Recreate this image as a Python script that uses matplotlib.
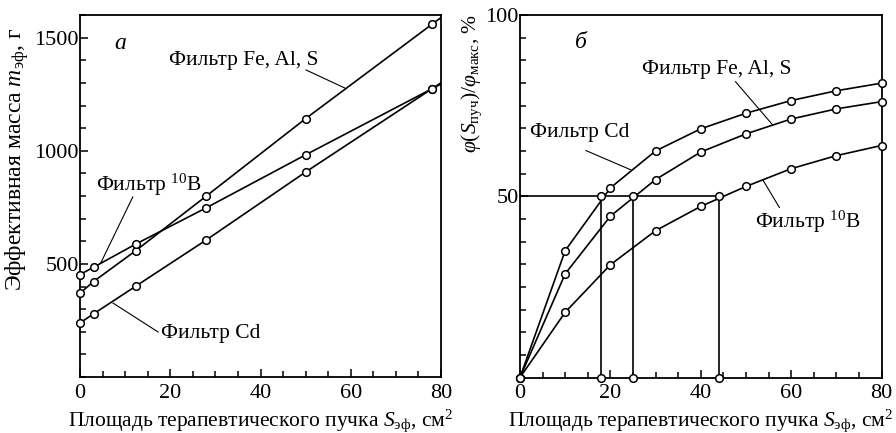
import numpy as np
import matplotlib
matplotlib.use('Agg')
import matplotlib.pyplot as plt
from matplotlib.ticker import MultipleLocator

plt.rcParams['font.family'] = ['Liberation Serif', 'DejaVu Serif']
plt.rcParams['mathtext.fontset'] = 'custom'
plt.rcParams['mathtext.rm'] = 'Liberation Serif'
plt.rcParams['mathtext.it'] = 'Liberation Serif:italic'
plt.rcParams['font.size'] = 15.5

# panel a: effective mass vs beam area
s_a = [0, 3, 12.4, 28, 50, 78]
m_fe = [370, 422, 559, 800, 1142, 1559]
m_b10 = [453, 485, 588, 748, 982, 1274]
m_cd = [239, 279, 402, 606, 906, 1274]

# panel b: relative flux vs beam area
s_b = [0, 10, 20, 30, 40, 50, 60, 70, 80]
phi_cd = [0, 35.0, 52.3, 62.5, 68.6, 72.9, 76.4, 79.1, 81.2]
phi_fe = [0, 28.6, 44.5, 54.6, 62.2, 67.2, 71.3, 74.1, 76.1]
phi_b10 = [0, 18.0, 31.1, 40.5, 47.2, 52.7, 57.6, 61.2, 64.0]
half_level = 50
s_half = [17.9, 25.0, 44.1]

lw = 1.2
mk = dict(marker='o', ms=5.5, mfc='white', mec='black', mew=1.1)

fig = plt.figure(figsize=(8.96, 4.33), dpi=100)
ax1 = fig.add_axes([80 / 896, 1 - 377 / 433, 361 / 896, 362 / 433])
ax2 = fig.add_axes([520 / 896, 1 - 377.5 / 433, 361.5 / 896, 362.5 / 433])


def extend(x, y, xmax):
    # carry the last segment on to the right edge of the frame
    k = (y[-1] - y[-2]) / (x[-1] - x[-2])
    return list(x) + [xmax], list(y) + [y[-1] + k * (xmax - x[-1])]


for y in (m_fe, m_b10, m_cd):
    xe, ye = extend(s_a, y, 80)
    ax1.plot(xe, ye, '-', color='black', lw=lw)
    ax1.plot(s_a, y, ls='none', clip_on=False, zorder=5, **mk)

ax1.set_xlim(0, 80)
ax1.set_ylim(0, 1600)
ax1.xaxis.set_major_locator(MultipleLocator(20))
ax1.xaxis.set_minor_locator(MultipleLocator(5))
ax1.yaxis.set_minor_locator(MultipleLocator(100))
ax1.set_yticks([500, 1000, 1500])
ax1.set_xlabel('Площадь терапевтического пучка $S_{\\mathrm{эф}}$, см$^2$', labelpad=3)
ax1.set_ylabel('Эффективная масса $m_{\\mathrm{эф}}$, г', fontsize=17)
ax1.yaxis.set_label_coords(-0.135, 0.6)

ax1.text(8.9, 1476, 'а', style='italic', fontsize=17, ha='center', va='center')
ax1.text(36.3, 1401, 'Фильтр Fe, Al, S', ha='center', va='center')
ax1.plot([50.1, 58.7], [1357, 1277], color='black', lw=0.8)
ax1.text(15.3, 849, 'Фильтр $^{10}$B', ha='center', va='center')
ax1.plot([11.7, 4.6], [796, 504], color='black', lw=0.8)
ax1.text(29.0, 194, 'Фильтр Cd', ha='center', va='center')
ax1.plot([17.3, 7.3], [199, 327], color='black', lw=0.8)

for y in (phi_cd, phi_fe, phi_b10):
    ax2.plot(s_b, y, color='black', lw=lw, clip_on=False, zorder=5, **mk)

ax2.plot([0, s_half[-1]], [half_level, half_level], color='black', lw=lw)
for x in s_half:
    ax2.plot([x, x], [0, half_level], color='black', lw=lw)
ax2.plot(s_half, [half_level] * len(s_half), ls='none', zorder=6, **mk)
ax2.plot(s_half, [0] * len(s_half), ls='none', clip_on=False, zorder=6, **mk)

ax2.set_xlim(0, 80)
ax2.set_ylim(0, 100)
ax2.xaxis.set_major_locator(MultipleLocator(20))
ax2.xaxis.set_minor_locator(MultipleLocator(5))
ax2.yaxis.set_minor_locator(MultipleLocator(6.25))
ax2.set_yticks([50, 100])
ax2.set_xlabel('Площадь терапевтического пучка $S_{\\mathrm{эф}}$, см$^2$', labelpad=3)
ax2.set_ylabel('$\\varphi(S_{\\mathrm{пуч}})/\\varphi_{\\mathrm{макс}}$, %')
ax2.yaxis.set_label_coords(-0.10, 0.81)

ax2.text(13.5, 92.4, 'б', style='italic', fontsize=17, ha='center', va='center')
ax2.text(43.5, 84.9, 'Фильтр Fe, Al, S', ha='center', va='center')
ax2.plot([47.7, 55.9], [81.6, 69.7], color='black', lw=0.8)
ax2.text(13.3, 67.5, 'Фильтр Cd', ha='center', va='center')
ax2.plot([14.6, 24.5], [62.6, 57.3], color='black', lw=0.8)
ax2.text(63.6, 42.8, 'Фильтр $^{10}$B', ha='center', va='center')
ax2.plot([57.4, 53.7], [46.9, 54.6], color='black', lw=0.8)

for ax in (ax1, ax2):
    for sp in ax.spines.values():
        sp.set_linewidth(1.3)
    ax.tick_params(which='both', direction='in', top=False, right=False, width=1.1,
                   labelsize=16)
    ax.tick_params(which='major', length=6)
    ax.tick_params(which='minor', length=4)
    ax.tick_params(axis='y', which='major', pad=1)
    ax.tick_params(axis='x', which='major', pad=5)

fig.savefig('out.png', dpi=100)
